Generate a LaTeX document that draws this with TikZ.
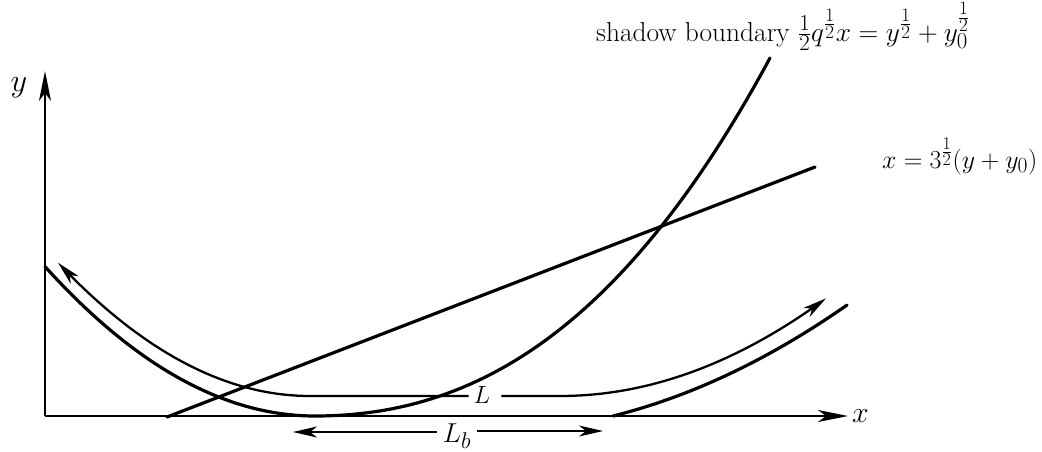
\documentclass[tikz,border=0pt]{standalone}
\usetikzlibrary{arrows.meta}
\begin{document}
\begin{tikzpicture}[x=1pt,y=-1pt,
  axis/.style={line width=2.2pt, -{Stealth[length=30pt,width=12pt,inset=8pt]}},
  curve/.style={line width=3.2pt, line cap=round, line join=round},
  ray/.style={line width=2.3pt, line join=round, -{Stealth[length=24pt,width=11pt,inset=7pt]}},
  big/.style={inner sep=0pt, font=\fontsize{24.88}{30}\selectfont},
  arclab/.style={inner ysep=0pt, inner xsep=5pt, font=\fontsize{24.88}{30}\selectfont}]
\useasboundingbox (0,0) rectangle (1042,451);
% axes
\coordinate (O) at (45,416);
\coordinate (ytip) at (45,71);
\coordinate (xtip) at (848,416);
\draw[axis] (O) -- (ytip);
\draw[axis] (O) -- (xtip);
\node[big, scale=1.3, anchor=base] (ylab) at (19,91) {$y$};
\node[big, scale=1.2, anchor=base west] (xlab) at (852,422) {$x$};
% labels
\node[big, scale=1.1, anchor=base west] (sb) at (596,41) {shadow boundary $\frac12 q^{\frac12}x=y^{\frac12}+y_0^{\frac12}$};
\node[big, scale=1.04, anchor=base west] (ll) at (882,168) {$x=3^{\frac12}(y+y_0)$};
% shadow boundary curve
\draw[curve] plot[domain=-2.70:0, samples=40] ({315+100*\x},{416-20.5*\x*\x})
  -- plot[domain=0:4.55, samples=60] ({315+100*\x},{416-11.114*\x*\x-1.358*\x*\x*\x});
% straight line
\coordinate (s0) at (167,417);
\coordinate (s1) at (815,167);
\draw[curve] (s0) -- (s1);
% right curve
\draw[curve] plot[domain=0:2.34, samples=40] ({613+100*\x},{416-25*\x-9.58*\x*\x});
% L arrows
\node[arclab, anchor=base] (L) at (482,403) {$L$};
\coordinate (Lleft) at (310,396);
\coordinate (Lright) at (560,396);
\draw[ray] (L.west |- Lleft) -- (Lleft)
  -- plot[domain=0:2.52, samples=40] ({310-100*\x},{396-21*\x*\x});
\draw[ray] ([xshift=6pt]L.east |- Lright) -- (Lright)
  -- plot[domain=0:2.66, samples=40] ({560+100*\x},{396-13.8*\x*\x});
% Lb arrows
\node[arclab, scale=1.1, anchor=base] (Lb) at (457,442) {$L_b$};
\coordinate (lbl) at (293,432);
\coordinate (lbr) at (603,431);
\draw[ray] (Lb.west |- lbl) -- (lbl);
\draw[ray] (Lb.east |- lbr) -- (lbr);
\end{tikzpicture}
\end{document}
